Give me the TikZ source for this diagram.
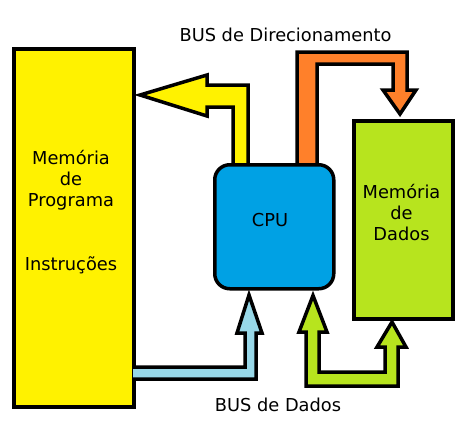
\documentclass[tikz,border=0pt]{standalone}
\usepackage{fontspec}
\setmainfont{DejaVu Sans}
\definecolor{cYellow}{RGB}{255,242,0}
\definecolor{cOrange}{RGB}{255,128,42}
\definecolor{cBlue}{RGB}{0,161,228}
\definecolor{cLBlue}{RGB}{152,216,232}
\definecolor{cGreen}{RGB}{183,228,30}
\begin{document}
\begin{tikzpicture}[x=1pt,y=-1pt,
  outline/.style={draw=black,line width=3.5pt,line join=miter,miter limit=10},
  lbl/.style={anchor=base,inner sep=0pt,font=\fontsize{17.8}{21}\selectfont}]
\useasboundingbox (0,0) rectangle (468,442);
% memory boxes
\node[outline,fill=cYellow,rectangle,inner sep=0pt,minimum width=120pt,minimum height=358pt,anchor=north west] (prog) at (12,47) {};
\node[outline,fill=cGreen,rectangle,inner sep=0pt,minimum width=99pt,minimum height=198pt,anchor=north west] (dados) at (352,119) {};
% yellow bus
\draw[outline,fill=cYellow] (233,165) -- (233,107) -- (207,107) -- (207,116) -- (140,95) -- (207,75) -- (207,85) -- (248,85) -- (248,165);
% orange bus
\draw[outline,fill=cOrange] (297,165) -- (297,52) -- (407,52) -- (407,90) -- (416,90) -- (400,114) -- (383,90) -- (393,90) -- (393,64) -- (317,64) -- (317,165);
% light blue bus
\draw[outline,fill=cLBlue] (133,367) -- (245,367) -- (245,333) -- (237,333) -- (249,295) -- (262,333) -- (256,333) -- (256,379) -- (133,379);
% green bus
\draw[outline,fill=cGreen] (306,386) -- (306,332) -- (299,332) -- (313,295.5) -- (327,332) -- (319,332) -- (319,372) -- (385,372) -- (385,347) -- (377,347) -- (392,322) -- (406,347) -- (398,347) -- (398,386) -- cycle;
% CPU
\node[outline,fill=cBlue,rectangle,rounded corners=15pt,inner sep=0pt,minimum width=119pt,minimum height=124pt,anchor=north west] (cpu) at (213,163) {};
% texts
\node[lbl] (t1) at (71,164.5) {Memória};
\node[lbl] (t2) at (71,185.5) {de};
\node[lbl] (t3) at (71,206.5) {Programa};
\node[lbl] (t4) at (71,270) {Instruções};
\node[lbl] (d1) at (401.5,198) {Memória};
\node[lbl] (d2) at (401.5,219) {de};
\node[lbl] (d3) at (401.5,240) {Dados};
\node[lbl] (c1) at (270,226) {CPU};
\node[lbl] (b1) at (285.5,41) {BUS de Direcionamento};
\node[lbl] (b2) at (278,411.5) {BUS de Dados};
\end{tikzpicture}
\end{document}
